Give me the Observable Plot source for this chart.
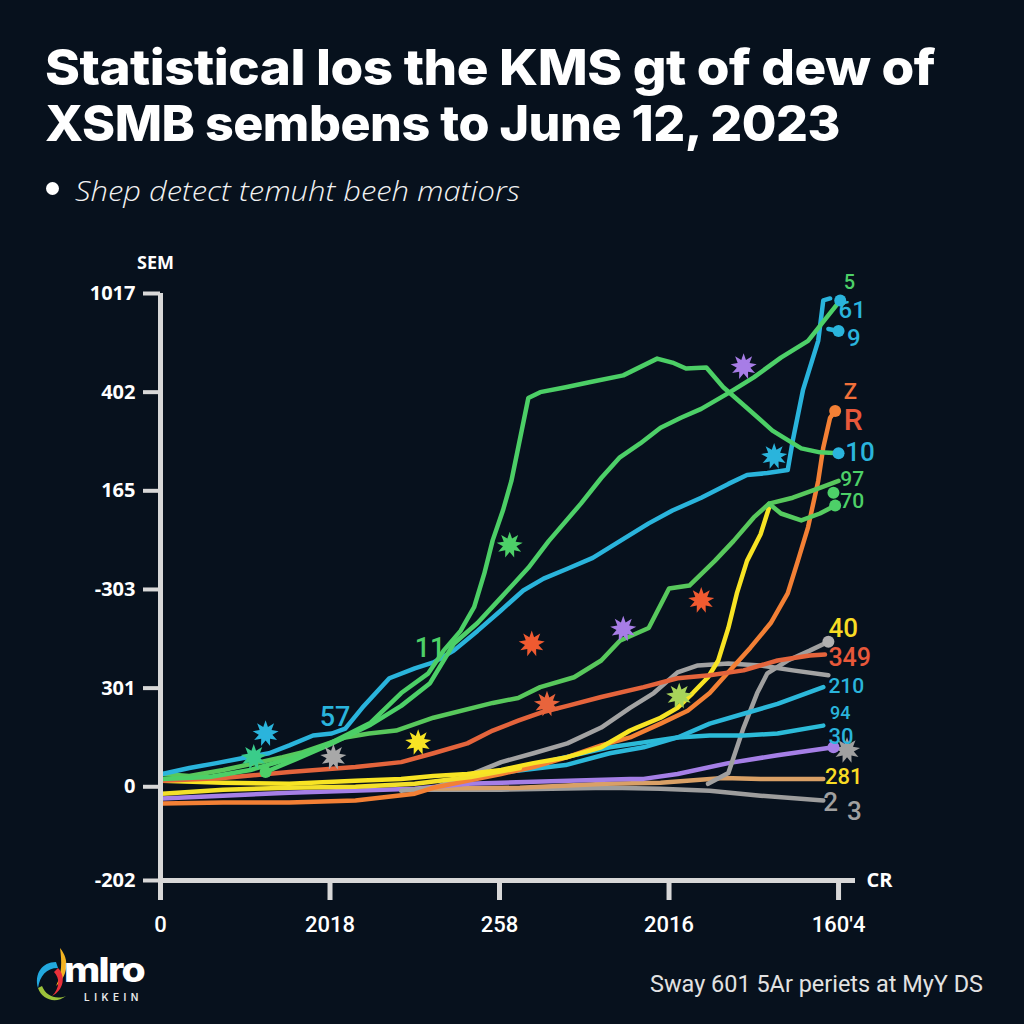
<!DOCTYPE html>
<html>
<head>
<meta charset="utf-8">
<script src="https://cdn.jsdelivr.net/npm/d3@7"></script>
<script src="https://cdn.jsdelivr.net/npm/@observablehq/plot@0.6"></script>
<style>
html,body{margin:0;padding:0;background:#07111d;}
#page{position:relative;width:1024px;height:1024px;background:#07111d;overflow:hidden;}
.t{position:absolute;white-space:nowrap;color:#fff;transform-origin:left top;}
#title1,#title2{left:45px;font-family:Inter,"Open Sans",sans-serif;font-weight:800;font-size:50px;line-height:50px;letter-spacing:-0.5px;}
#title1{top:42px;}
#title2{top:98px;}
#bullet{position:absolute;left:46px;top:182px;width:13px;height:13px;border-radius:50%;background:#fff;}
#sub{left:75px;top:176px;font-family:"Open Sans",sans-serif;font-style:italic;font-weight:300;font-size:28px;line-height:28px;color:#f2f2f2;}
#chart{position:absolute;left:0;top:240px;}
#foot{left:650px;top:972px;font-family:Roboto,sans-serif;font-size:24px;line-height:24px;color:#e2e2e2;}
#logo1{left:64px;top:953px;font-family:Inter,sans-serif;font-weight:800;font-size:34px;line-height:34px;letter-spacing:-1.5px;}
#logo2{left:84px;top:992px;font-family:Inter,sans-serif;font-weight:600;font-size:10px;line-height:11px;letter-spacing:4.5px;color:#e8e8e8;}
#swirl{position:absolute;left:30px;top:946px;}
</style>
</head>
<body>
<div id="page">
  <div class="t" id="title1">Statistical los the KMS gt of dew of</div>
  <div class="t" id="title2">XSMB sembens to June 12, 2023</div>
  <div id="bullet"></div>
  <div class="t" id="sub">Shep detect temuht beeh matiors</div>
  <div id="chart"></div>
  <svg id="swirl" width="50" height="60" viewBox="0 0 50 60">
    <path d="M30 2 C40 14 38 30 26 40 C32 28 32 16 30 2 Z" fill="#f2b321"/>
    <path d="M26 16 C12 16 4 28 8 42 C10 30 16 22 28 22 Z" fill="#22a8de"/>
    <path d="M28 22 C36 30 34 44 22 50 C30 42 30 32 24 26 Z" fill="#e8303a"/>
    <path d="M8 42 C12 54 26 58 36 50 C26 54 16 50 12 40 Z" fill="#9cc23a"/>
  </svg>
  <div class="t" id="logo1">mlro</div>
  <div class="t" id="logo2">LIKEIN</div>
  <div class="t" id="foot">Sway 601 5Ar periets at MyY DS</div>
</div>
<script>
// ---------- axes ----------
const xDomain = [0, 4.1];
const yDomain = [-0.95, 5];
const xTickValues = [0, 1, 2, 3, 4];
const xTickLabels = ["0", "2018", "258", "2016", "160'4"];
const yTickValues = [-0.95, 0, 1, 2, 3, 4, 5];
const yTickLabels = ["-202", "0", "301", "-303", "165", "402", "1017"];
const yAxisTitle = "SEM";
const xAxisTitle = "CR";

// ---------- series ([x, y]) ----------
const greenPeak = [[0.01,0.08],[0.29,0.10],[0.53,0.17],[0.77,0.29],[1.00,0.44],[1.24,0.65],[1.42,0.95],[1.58,1.15],[1.67,1.38],[1.77,1.58],[1.85,1.82],[1.91,2.16],[1.96,2.50],[2.02,2.80],[2.07,3.10],[2.17,3.94],[2.24,4.00],[2.39,4.05],[2.53,4.10],[2.73,4.17],[2.93,4.34],[3.02,4.30],[3.10,4.24],[3.22,4.25],[3.32,4.05],[3.46,3.84],[3.61,3.61],[3.78,3.43],[3.89,3.39],[4.00,3.38]];
const greenRise = [[0.62,0.15],[0.80,0.28],[1.00,0.43],[1.24,0.63],[1.42,0.82],[1.59,1.05],[1.73,1.45],[1.87,1.66],[2.01,1.92],[2.17,2.22],[2.29,2.49],[2.48,2.87],[2.60,3.13],[2.71,3.34],[2.83,3.48],[2.95,3.64],[3.07,3.74],[3.19,3.83],[3.35,3.99],[3.50,4.15],[3.66,4.35],[3.82,4.52],[4.01,4.93]];
const greenMid = [[0.01,0.13],[0.17,0.11],[0.37,0.17],[0.56,0.24],[0.72,0.30],[0.84,0.35],[0.99,0.44],[1.09,0.50],[1.23,0.54],[1.39,0.57],[1.61,0.70],[1.96,0.85],[2.11,0.90],[2.24,1.01],[2.44,1.11],[2.60,1.28],[2.71,1.48],[2.88,1.61],[3.00,2.01],[3.12,2.04],[3.27,2.29],[3.38,2.49],[3.50,2.73],[3.59,2.87],[3.73,2.93],[3.89,3.03],[4.00,3.10]];
const greenHook = [[3.59,2.87],[3.66,2.77],[3.78,2.70],[3.89,2.77],[3.98,2.85]];
const cyanMain = [[0.01,0.13],[0.17,0.19],[0.33,0.24],[0.48,0.29],[0.64,0.34],[0.76,0.42],[0.90,0.52],[1.01,0.54],[1.09,0.59],[1.19,0.80],[1.35,1.10],[1.50,1.20],[1.61,1.26],[1.73,1.38],[1.87,1.58],[2.01,1.79],[2.14,1.99],[2.26,2.11],[2.40,2.21],[2.55,2.32],[2.71,2.49],[2.88,2.67],[3.02,2.80],[3.19,2.93],[3.35,3.07],[3.46,3.16],[3.58,3.18],[3.70,3.21],[3.73,3.51],[3.79,4.02],[3.88,4.52],[3.91,4.93],[3.95,4.95]];
const cyanStub = [[3.94,4.64],[4.00,4.62]];
const cyanUpper = [[1.89,0.12],[2.14,0.17],[2.39,0.22],[2.65,0.34],[2.85,0.40],[3.05,0.50],[3.24,0.64],[3.44,0.74],[3.64,0.84],[3.91,1.01]];
const cyanLower = [[2.12,0.19],[2.39,0.30],[2.65,0.40],[2.85,0.45],[3.05,0.50],[3.24,0.52],[3.44,0.52],[3.64,0.54],[3.91,0.62]];
const yellowMain = [[0.01,0.06],[0.37,0.04],[0.76,0.03],[1.15,0.06],[1.42,0.08],[1.61,0.11],[1.81,0.13],[2.01,0.17],[2.20,0.24],[2.40,0.30],[2.60,0.40],[2.77,0.57],[2.81,0.60],[2.95,0.70],[3.05,0.80],[3.14,0.95],[3.23,1.11],[3.29,1.28],[3.35,1.61],[3.40,1.96],[3.46,2.29],[3.54,2.56],[3.59,2.83]];
const yellowLow = [[0.01,-0.07],[0.37,-0.03],[0.76,-0.01],[1.15,0.00],[1.50,0.03],[1.83,0.10],[2.12,0.19]];
const orangeSurge = [[0.01,-0.17],[0.37,-0.16],[0.76,-0.16],[1.15,-0.14],[1.50,-0.07],[1.61,-0.01],[1.81,0.06],[2.01,0.13],[2.20,0.20],[2.40,0.30],[2.60,0.42],[2.77,0.50],[2.95,0.64],[3.11,0.77],[3.24,0.95],[3.36,1.18],[3.48,1.41],[3.60,1.66],[3.70,1.96],[3.76,2.29],[3.82,2.63],[3.88,3.10],[3.91,3.44],[3.95,3.74],[3.98,3.81]];
const redSteady = [[0.01,0.06],[0.37,0.09],[0.76,0.15],[1.15,0.20],[1.42,0.25],[1.61,0.34],[1.81,0.44],[1.96,0.57],[2.11,0.67],[2.24,0.75],[2.40,0.82],[2.60,0.91],[2.85,1.01],[3.05,1.10],[3.24,1.13],[3.44,1.18],[3.64,1.28],[3.83,1.33],[3.92,1.34]];
const grayPlateau = [[1.42,-0.04],[1.61,-0.01],[1.81,0.11],[2.01,0.25],[2.20,0.34],[2.40,0.44],[2.60,0.60],[2.77,0.80],[2.91,0.95],[3.05,1.16],[3.17,1.23],[3.35,1.25],[3.54,1.23],[3.73,1.18],[3.94,1.13]];
const grayJump = [[3.23,0.03],[3.35,0.14],[3.44,0.60],[3.52,0.95],[3.58,1.15],[3.70,1.28],[3.83,1.38],[3.94,1.47]];
const grayLow = [[1.42,-0.03],[2.01,-0.03],[2.65,-0.01],[2.95,-0.02],[3.24,-0.04],[3.54,-0.09],[3.91,-0.14]];
const tanFlat = [[1.53,-0.02],[2.12,-0.01],[2.63,0.03],[2.95,0.04],[3.32,0.09],[3.54,0.08],[3.91,0.08]];
const purpleSlow = [[0.01,-0.12],[0.76,-0.06],[1.50,-0.02],[1.81,0.03],[2.20,0.05],[2.77,0.08],[2.85,0.08],[3.05,0.13],[3.35,0.24],[3.64,0.32],[3.97,0.40]];

const seriesOrder = [grayLow, tanFlat, purpleSlow, grayPlateau, grayJump, cyanLower, cyanUpper, orangeSurge, yellowLow, yellowMain, redSteady, greenMid, greenHook, cyanMain, cyanStub, greenRise, greenPeak];
const seriesColors = ["#9d9d9d", "#d9a066", "#a57fe6", "#a3a3a3", "#a0a0a0", "#2cbbd8", "#2cb8da", "#f38035", "#f3e02a", "#f8e424", "#e4643c", "#58c85c", "#56cc60", "#2ab4dc", "#2ab4dc", "#4dd068", "#4ccf66"];

// ---------- end dots ----------
const endDots = [[4.01,4.93],[4.00,4.62],[3.98,3.81],[4.00,3.38],[3.97,2.98],[3.98,2.85],[3.94,1.47],[3.97,0.40],[0.62,0.15]];
const endDotColors = ["#2ab4dc", "#2ab4dc", "#f38035", "#2ab4dc", "#4dd068", "#4dd068", "#b0b0b0", "#a57fe6", "#4dd068"];

// ---------- burst markers ----------
const stars = [[0.62,0.54],[0.55,0.30],[1.02,0.30],[1.52,0.45],[2.06,2.45],[2.19,1.45],[2.28,0.84],[2.73,1.60],[3.19,1.89],[3.06,0.92],[3.44,4.26],[3.62,3.35],[4.05,0.37]];
const starColors = ["#2ab4dc", "#3acc8a", "#a8a8a8", "#f8e424", "#4dd068", "#f05a30", "#e8643c", "#a77de6", "#f05a30", "#a8d45a", "#a77de6", "#2ab4dc", "#a0a0a0"];

// ---------- labels ----------
const inlineLabels = ["57", "11"];
const inlineLabelPos = [[1.03,0.70],[1.59,1.40]];
const inlineLabelColors = ["#2ab4dc", "#4dd068"];
const endLabels = ["5", "61", "9", "Z", "R", "10", "97", "70", "40", "349", "210", "94", "30", "281", "2", "3"];
const endLabelPos = [[4.03,5.11],[4.00,4.83],[4.05,4.55],[4.03,4.00],[4.03,3.71],[4.04,3.39],[4.01,3.12],[4.01,2.89],[3.94,1.60],[3.94,1.31],[3.94,1.02],[3.95,0.75],[3.94,0.50],[3.92,0.10],[3.91,-0.16],[4.05,-0.25]];
const endLabelColors = ["#4dd068", "#2ab4dc", "#2ab4dc", "#f0703a", "#e8583a", "#2ab4dc", "#4dd068", "#4dd068", "#f8dc24", "#e8583a", "#2ab4dc", "#2ab4dc", "#2ab4dc", "#f8dc24", "#a0a0a0", "#a0a0a0"];
const endLabelSizes = [20, 24, 24, 22, 30, 26, 21, 21, 26, 25, 21, 18, 22, 22, 26, 26];

const burst = {
  draw(context, size) {
    const R = Math.sqrt(size / Math.PI) * 1.15, r = R * 0.52, n = 9;
    for (let i = 0; i < 2 * n; i++) {
      const a = (i * Math.PI) / n - Math.PI / 2;
      const rr = i % 2 ? r : R;
      const px = rr * Math.cos(a), py = rr * Math.sin(a);
      if (i) context.lineTo(px, py); else context.moveTo(px, py);
    }
    context.closePath();
  }
};

const axisColor = "#d8d8d8";
const plot = Plot.plot({
  width: 1024,
  height: 700,
  marginLeft: 160,
  marginRight: 169,
  marginTop: 53,
  marginBottom: 60,
  x: {domain: xDomain},
  y: {domain: yDomain},
  color: {type: "identity"},
  style: {background: "transparent", color: "#fff", fontFamily: "Roboto, sans-serif", overflow: "visible"},
  marks: [
    ...seriesOrder.map((s, i) => Plot.line(s, {x: d => d[0], y: d => d[1], stroke: seriesColors[i], strokeWidth: 4.5, strokeLinejoin: "round", strokeLinecap: "round"})),
    Plot.dot(stars, {x: d => d[0], y: d => d[1], fill: (d, i) => starColors[i], r: 11.5, symbol: burst, stroke: "none"}),
    Plot.dot(endDots, {x: d => d[0], y: d => d[1], fill: (d, i) => endDotColors[i], r: 6, stroke: "none"}),
    Plot.text(inlineLabels, {x: (d, i) => inlineLabelPos[i][0], y: (d, i) => inlineLabelPos[i][1], text: d => d, fill: (d, i) => inlineLabelColors[i], fontSize: 27, fontWeight: 500, fontFamily: "Roboto, sans-serif"}),
    Plot.text(endLabels, {x: (d, i) => endLabelPos[i][0], y: (d, i) => endLabelPos[i][1], text: d => d, fill: (d, i) => endLabelColors[i], fontSize: (d, i) => endLabelSizes[i], fontWeight: 500, textAnchor: "start", fontFamily: "Roboto, sans-serif"}),
    Plot.ruleX([xDomain[0]], {y1: yDomain[0], y2: yDomain[1], stroke: axisColor, strokeWidth: 5}),
    Plot.ruleY([yDomain[0]], {x1: xDomain[0], x2: xDomain[1], stroke: axisColor, strokeWidth: 5}),
    Plot.axisY({ticks: yTickValues, tickFormat: d => yTickLabels[yTickValues.indexOf(d)], tickSize: 17, tickPadding: 8, stroke: axisColor, strokeWidth: 4, fill: "#fff", fontSize: 20, fontWeight: 700, fontFamily: "'Open Sans', sans-serif", label: null}),
    Plot.axisX({ticks: xTickValues, tickFormat: d => xTickLabels[xTickValues.indexOf(d)], tickSize: 20, tickPadding: 16, stroke: axisColor, strokeWidth: 5, fill: "#fff", fontSize: 22, fontWeight: 500, fontFamily: "Roboto, sans-serif", label: null}),
    Plot.text([yAxisTitle], {x: xDomain[0], y: yDomain[1], dy: -30, dx: -5, text: d => d, fill: "#fff", fontSize: 18, fontWeight: 700, fontFamily: "'Open Sans', sans-serif"}),
    Plot.text([xAxisTitle], {x: xDomain[1], y: yDomain[0], dx: 11, text: d => d, textAnchor: "start", fill: "#fff", fontSize: 20, fontWeight: 700, fontFamily: "'Open Sans', sans-serif"})
  ]
});
document.getElementById("chart").appendChild(plot);

function fit(id, w) {
  const el = document.getElementById(id);
  const cw = el.getBoundingClientRect().width;
  if (cw > 0) el.style.transform = `scaleX(${w / cw})`;
}
fit("title1", 890);
fit("title2", 795);
fit("sub", 445);
fit("foot", 333);
fit("logo1", 80);
</script>
</body>
</html>
